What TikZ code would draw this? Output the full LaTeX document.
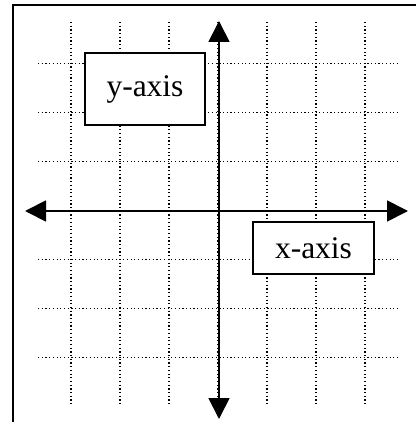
\documentclass[tikz,border=0pt]{standalone}
\usepackage{fontspec}
\setmainfont{Liberation Serif}
\usetikzlibrary{arrows.meta}
\tikzset{
  gridline/.style={line width=1.2pt, dash pattern=on 1.2pt off 2.5pt, black},
  axisline/.style={line width=1.8pt, {Triangle[length=21pt,width=21pt]}-{Triangle[length=21pt,width=21pt]}},
  labelbox/.style={draw, line width=2pt, fill=white, inner sep=0pt,
    font=\fontsize{31.5}{36}\selectfont},
  frameline/.style={line width=2.2pt}
}
\begin{document}
\begin{tikzpicture}[x=1pt,y=-1pt]
  \useasboundingbox (0,0) rectangle (416,422);
  % page frame (top and left edges)
  \draw[frameline] (416,5) -- (13,5) -- (13,422);
  % dotted grid
  \foreach \gx in {71,120,169,218,267,316,365}
    \draw[gridline] (\gx,22) -- (\gx,404);
  \foreach \gy in {63.5,112.5,161.5,210.5,259.5,308.5,357.5}
    \draw[gridline] (38,\gy) -- (398,\gy);
  % label boxes
  \node[labelbox, minimum width=120pt, minimum height=72pt] (ylab) at (145,89) {y-axis};
  \node[labelbox, minimum width=121pt, minimum height=52pt] (xlab) at (313.5,248) {x-axis};
  % axes
  \coordinate (ytop) at (219,21);
  \coordinate (ybot) at (219,419);
  \coordinate (xleft) at (25,211);
  \coordinate (xright) at (408,211);
  \draw[axisline] (ybot) -- (ytop);
  \draw[axisline] (xleft) -- (xright);
\end{tikzpicture}
\end{document}
